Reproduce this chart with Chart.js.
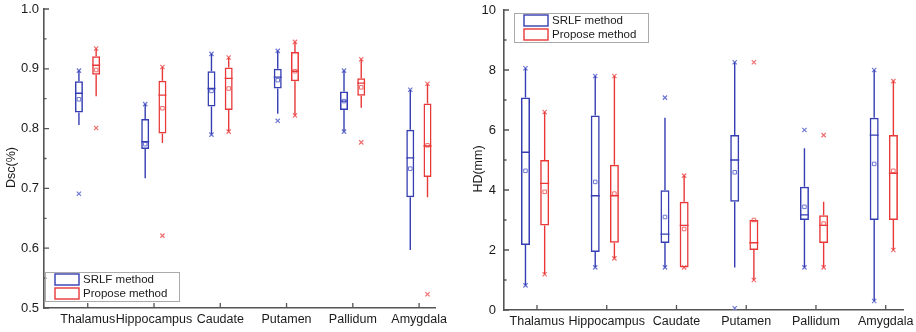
<!DOCTYPE html>
<html>
<head>
<meta charset="utf-8">
<script src="https://cdn.jsdelivr.net/npm/chart.js@4.4.1/dist/chart.umd.min.js"></script>
<style>
  body { margin: 0; background: #fff; }
  #wrap { position: relative; width: 916px; height: 332px; }
  canvas { position: absolute; top: 0; }
</style>
</head>
<body>
<div id="wrap">
  <canvas id="dsc" width="458" height="332" style="left:0"></canvas>
  <canvas id="hd" width="458" height="332" style="left:458px"></canvas>
</div>
<script>
const categories = ['Thalamus', 'Hippocampus', 'Caudate', 'Putamen', 'Pallidum', 'Amygdala'];
const methods = ['SRLF method', 'Propose method'];

// box rows: [whisker low, q1, median, q3, whisker high]
const dsc_srlf_box = [
  [0.806, 0.827, 0.859, 0.879, 0.897],
  [0.717, 0.766, 0.778, 0.816, 0.841],
  [0.790, 0.837, 0.867, 0.896, 0.925],
  [0.825, 0.867, 0.886, 0.900, 0.930],
  [0.795, 0.831, 0.846, 0.862, 0.897],
  [0.597, 0.685, 0.751, 0.798, 0.865]
];
const dsc_srlf_mean = [0.849, 0.774, 0.863, 0.881, 0.846, 0.733];
const dsc_srlf_marks = [[0.691, 0.897], [0.841], [0.790, 0.925], [0.813, 0.930], [0.795, 0.897], [0.865]];

const dsc_prop_box = [
  [0.854, 0.890, 0.906, 0.921, 0.934],
  [0.776, 0.792, 0.856, 0.880, 0.903],
  [0.795, 0.831, 0.884, 0.902, 0.919],
  [0.822, 0.879, 0.896, 0.928, 0.945],
  [0.835, 0.855, 0.876, 0.884, 0.916],
  [0.685, 0.719, 0.771, 0.842, 0.875]
];
const dsc_prop_mean = [0.898, 0.834, 0.867, 0.896, 0.869, 0.772];
const dsc_prop_marks = [[0.801, 0.934], [0.621, 0.903], [0.795, 0.919], [0.822, 0.945], [0.777, 0.916], [0.523, 0.875]];

const hd_srlf_box = [
  [0.82, 2.17, 5.26, 7.08, 8.06],
  [1.42, 1.93, 3.81, 6.48, 7.80],
  [1.42, 2.23, 2.53, 3.99, 6.41],
  [1.42, 3.61, 5.00, 5.83, 8.26],
  [1.42, 3.00, 3.17, 4.11, 5.39],
  [0.30, 3.00, 5.83, 6.41, 8.00]
];
const hd_srlf_mean = [4.64, 4.27, 3.10, 4.59, 3.44, 4.87];
const hd_srlf_marks = [[0.82, 8.06], [1.42, 7.80], [1.42, 7.08], [0.06, 8.26], [1.42, 6.00], [0.30, 8.00]];

const hd_prop_box = [
  [1.19, 2.82, 4.22, 5.00, 6.60],
  [1.72, 2.24, 3.81, 4.84, 7.80],
  [1.42, 1.42, 2.82, 3.61, 4.48],
  [1.00, 2.00, 2.24, 3.00, 3.00],
  [1.42, 2.23, 2.82, 3.16, 3.61],
  [2.00, 3.00, 4.56, 5.83, 7.63]
];
const hd_prop_mean = [3.94, 3.88, 2.70, 3.00, 2.88, 4.64];
const hd_prop_marks = [[1.19, 6.60], [1.72, 7.80], [1.42, 4.48], [1.00, 8.26], [1.42, 5.83], [2.00, 7.63]];

const BLUE = 'rgb(52,62,178)', RED = 'rgb(232,56,56)';
const BLUE_L = 'rgb(110,120,210)', RED_L = 'rgb(240,110,110)';
const AXIS = '#555';
const TEXT = '#1a1a1a';
const FONT = '"Liberation Sans", Arial, sans-serif';

function series_sets(box, mean, marks, offset, color, light, thick) {
  return [
    { type: 'bar', data: box.map((b, i) => ({ x: i + 1 + offset, y: [b[1], b[3]] })), stats: box,
      backgroundColor: 'rgba(0,0,0,0)', borderColor: color, borderWidth: 1.5, borderSkipped: false,
      maxBarThickness: thick, grouped: false },
    { type: 'scatter', data: mean.map((m, i) => ({ x: i + 1 + offset, y: m })),
      pointStyle: 'rect', radius: 2.5, borderWidth: 1, borderColor: light, backgroundColor: 'rgba(0,0,0,0)' },
    { type: 'scatter', data: marks.flatMap((m, i) => m.map(v => ({ x: i + 1 + offset, y: v }))),
      pointStyle: 'crossRot', radius: 3, borderWidth: 1.2, borderColor: light }
  ];
}

// whiskers and median lines of each box
const box_parts = {
  id: 'box_parts',
  afterDatasetsDraw(chart) {
    const { ctx, scales: { y } } = chart;
    chart.data.datasets.forEach((ds, di) => {
      if (!ds.stats) return;
      ctx.save();
      ctx.strokeStyle = ds.borderColor;
      ctx.lineWidth = 1.4;
      chart.getDatasetMeta(di).data.forEach((bar, i) => {
        const s = ds.stats[i], cx = bar.x, hw = bar.width / 2;
        ctx.beginPath();
        ctx.moveTo(cx, y.getPixelForValue(s[0])); ctx.lineTo(cx, y.getPixelForValue(s[1]));
        ctx.moveTo(cx, y.getPixelForValue(s[3])); ctx.lineTo(cx, y.getPixelForValue(s[4]));
        ctx.moveTo(cx - hw, y.getPixelForValue(s[2])); ctx.lineTo(cx + hw, y.getPixelForValue(s[2]));
        ctx.stroke();
      });
      ctx.restore();
    });
  }
};

// inward ticks, y title and the boxed legend
const decor = {
  id: 'decor',
  afterDraw(chart, args, o) {
    const { ctx, chartArea: a, scales: { x, y } } = chart;
    ctx.save();
    ctx.strokeStyle = AXIS;
    ctx.lineWidth = 1.3;
    ctx.beginPath();
    y.ticks.forEach((t, i) => {
      let py = y.getPixelForValue(t.value);
      ctx.moveTo(a.left, py); ctx.lineTo(a.left + 5, py);
      if (i < y.ticks.length - 1) {
        py = y.getPixelForValue((t.value + y.ticks[i + 1].value) / 2);
        ctx.moveTo(a.left, py); ctx.lineTo(a.left + 2.5, py);
      }
    });
    x.ticks.forEach(t => {
      const px = x.getPixelForValue(t.value);
      ctx.moveTo(px, a.bottom); ctx.lineTo(px, a.bottom - 5);
    });
    ctx.stroke();

    ctx.fillStyle = TEXT;
    ctx.font = '12.5px ' + FONT;
    ctx.textAlign = 'center';
    ctx.textBaseline = 'middle';
    ctx.save();
    ctx.translate(o.title_x, (a.top + a.bottom) / 2 + 9);
    ctx.rotate(-Math.PI / 2);
    ctx.fillText(o.title, 0, 0);
    ctx.restore();

    const lx = a.left + o.legend_x, ly = o.legend_top ? a.top + o.legend_y : a.bottom - o.legend_y;
    ctx.strokeStyle = '#aaa';
    ctx.lineWidth = 1;
    ctx.strokeRect(lx + 0.5, ly + 0.5, 134, 29);
    ctx.font = '11.5px ' + FONT;
    ctx.textAlign = 'left';
    [BLUE, RED].forEach((c, i) => {
      ctx.strokeStyle = c;
      ctx.lineWidth = 1.4;
      ctx.strokeRect(lx + 10, ly + 2 + i * 14, 24, 11);
      ctx.fillText(methods[i], lx + 38, ly + 8 + i * 14);
    });
    ctx.restore();
  }
};

function draw_box_chart(id, o) {
  new Chart(document.getElementById(id), {
    type: 'bar',
    data: {
      datasets: [
        ...series_sets(o.srlf_box, o.srlf_mean, o.srlf_marks, o.off[0], BLUE, BLUE_L, o.thick),
        ...series_sets(o.prop_box, o.prop_mean, o.prop_marks, o.off[1], RED, RED_L, o.thick)
      ]
    },
    options: {
      responsive: false,
      animation: false,
      layout: { padding: { top: o.pad_top, right: o.pad_right, left: 0, bottom: 0 } },
      plugins: { legend: { display: false }, tooltip: { enabled: false },
        decor: { title: o.title, title_x: o.title_x, legend_x: o.legend_x, legend_y: o.legend_y, legend_top: o.legend_top } },
      scales: {
        x: {
          type: 'linear', min: o.x_min, max: o.x_max, offset: false,
          grid: { display: false, drawTicks: false }, border: { display: true, color: AXIS, width: 1.6 },
          afterBuildTicks: s => { s.ticks = categories.map((c, i) => ({ value: i + 1 })); },
          afterFit: s => { s.height = o.x_height; s.paddingLeft = 0; s.paddingRight = 0; },
          ticks: { autoSkip: false, maxRotation: 0, padding: 4, color: TEXT, font: { family: FONT, size: 12.5 },
            callback: (v, i) => categories[i] }
        },
        y: {
          min: o.y_min, max: o.y_max,
          grid: { display: false, drawTicks: false }, border: { display: true, color: AXIS, width: 1.6 },
          afterFit: s => { s.width = o.y_width; s.paddingTop = 0; s.paddingBottom = 0; },
          ticks: { stepSize: o.y_step, padding: o.y_pad, color: TEXT, font: { family: FONT, size: 13 },
            callback: v => o.y_fmt(v) }
        }
      }
    },
    plugins: [box_parts, decor]
  });
}

draw_box_chart('dsc', {
  srlf_box: dsc_srlf_box, srlf_mean: dsc_srlf_mean, srlf_marks: dsc_srlf_marks,
  prop_box: dsc_prop_box, prop_mean: dsc_prop_mean, prop_marks: dsc_prop_marks,
  off: [-0.133, 0.127], thick: 8,
  x_min: 0.34, x_max: 6.24, y_min: 0.5, y_max: 1.0, y_step: 0.1, y_fmt: v => v.toFixed(1),
  pad_top: 9, pad_right: 23, x_height: 24, y_width: 44, y_pad: 5,
  title: 'Dsc(%)', title_x: 12, legend_x: 1, legend_y: 36, legend_top: false
});

draw_box_chart('hd', {
  srlf_box: hd_srlf_box, srlf_mean: hd_srlf_mean, srlf_marks: hd_srlf_marks,
  prop_box: hd_prop_box, prop_mean: hd_prop_mean, prop_marks: hd_prop_marks,
  off: [-0.165, 0.11], thick: 9,
  x_min: 0.527, x_max: 6.248, y_min: 0, y_max: 10, y_step: 2, y_fmt: v => String(v),
  pad_top: 10, pad_right: 13, x_height: 22, y_width: 46, y_pad: 8,
  title: 'HD(mm)', title_x: 21, legend_x: 10, legend_y: 3, legend_top: true
});
</script>
</body>
</html>
